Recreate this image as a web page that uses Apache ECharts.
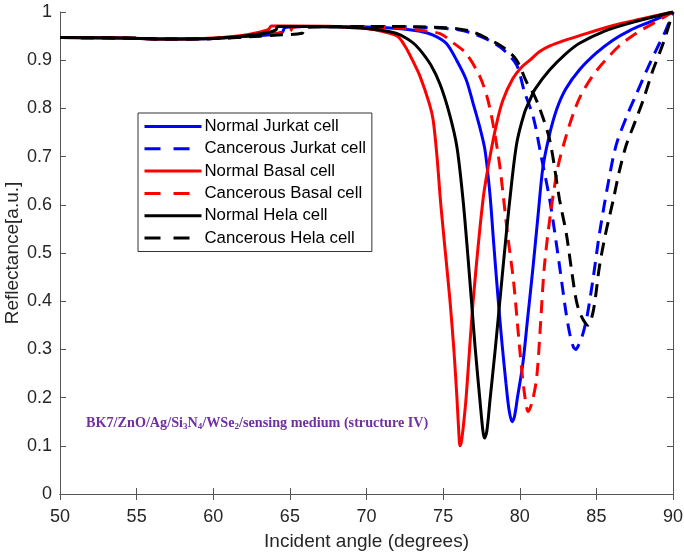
<!DOCTYPE html>
<html>
<head>
<meta charset="utf-8">
<script src="https://cdn.jsdelivr.net/npm/echarts@6/dist/echarts.min.js"></script>
<style>
  html, body { margin: 0; padding: 0; background: #fff; }
  #chart { width: 684px; height: 557px; }
</style>
</head>
<body>
<div id="chart"></div>
<script>
// reflectance curves, [angle (deg), reflectance]
const jurkatNormal = [[50,0.947],[54,0.946],[57,0.944],[60,0.945],[62,0.949],[64,0.954],[64.5,0.958],[64.7,0.968],[66,0.97],[70,0.969],[72,0.966],[73.5,0.96],[74.35,0.952],[75.2,0.935],[75.88,0.9],[76.5,0.86],[76.96,0.81],[77.4,0.76],[77.73,0.714],[78.06,0.62],[78.3,0.52],[78.6,0.4],[78.85,0.31],[79.1,0.23],[79.3,0.175],[79.5,0.15],[79.65,0.16],[79.85,0.2],[80.2,0.27],[80.5,0.36],[80.87,0.472],[81.2,0.58],[81.5,0.675],[81.9,0.74],[82.4,0.797],[83,0.84],[83.9,0.88],[85,0.915],[86.1,0.942],[87.2,0.962],[88.3,0.977],[90,1.0]];
const jurkatCancer = [[50,0.947],[54,0.946],[57,0.944],[60,0.945],[62,0.949],[64,0.955],[64.8,0.96],[65,0.968],[66,0.97],[70,0.97],[74,0.968],[76,0.963],[77,0.955],[78.2,0.938],[79,0.92],[79.8,0.89],[80.3,0.835],[80.9,0.78],[81.4,0.7],[81.96,0.61],[82.6,0.472],[83,0.38],[83.26,0.333],[83.5,0.305],[83.66,0.3],[83.85,0.31],[84.1,0.33],[84.4,0.37],[84.8,0.45],[85.2,0.54],[85.8,0.65],[86.3,0.725],[87,0.785],[87.6,0.829],[88.3,0.88],[88.9,0.921],[89.5,0.96],[90,1.0]];
const basalNormal = [[50,0.947],[54,0.946],[57,0.944],[60,0.946],[62,0.952],[63,0.958],[63.6,0.964],[63.8,0.971],[65,0.971],[68,0.97],[70,0.966],[71,0.96],[72,0.95],[72.5,0.93],[73,0.9],[73.5,0.866],[74.1,0.81],[74.35,0.776],[74.6,0.7],[74.85,0.6],[75.15,0.5],[75.45,0.4],[75.7,0.3],[75.9,0.2],[76.02,0.13],[76.1,0.1],[76.2,0.11],[76.35,0.15],[76.5,0.2],[76.96,0.4],[77.6,0.61],[78,0.69],[78.5,0.77],[78.9,0.817],[79.55,0.862],[80.1,0.885],[80.66,0.9],[81.3,0.918],[82,0.93],[82.83,0.94],[84,0.952],[86.1,0.972],[88,0.986],[90,1.0]];
const basalCancer = [[50,0.947],[54,0.946],[57,0.944],[60,0.945],[62,0.949],[64,0.955],[65,0.96],[65.2,0.968],[66,0.97],[70,0.969],[72,0.967],[73.5,0.962],[74.8,0.955],[75.7,0.935],[76.5,0.914],[77.4,0.866],[77.9,0.82],[78.3,0.76],[78.7,0.68],[79.2,0.54],[79.6,0.44],[80,0.3],[80.3,0.21],[80.55,0.171],[80.8,0.19],[81.1,0.24],[81.35,0.35],[81.6,0.47],[82,0.58],[82.5,0.68],[83,0.74],[83.5,0.79],[84,0.828],[84.7,0.865],[85.4,0.893],[86.5,0.93],[87.6,0.956],[88.8,0.978],[90,1.0]];
const helaNormal = [[50,0.947],[54,0.946],[57,0.944],[60,0.945],[62,0.95],[63.5,0.957],[64.1,0.963],[64.2,0.97],[66,0.97],[68,0.969],[70,0.966],[71,0.962],[72,0.955],[73,0.937],[73.5,0.921],[74.2,0.89],[74.8,0.85],[75.4,0.79],[75.9,0.72],[76.3,0.61],[76.6,0.5],[76.85,0.4],[77.1,0.3],[77.4,0.195],[77.6,0.13],[77.7,0.116],[77.85,0.13],[78.06,0.195],[78.4,0.3],[78.7,0.4],[79,0.5],[79.35,0.61],[79.8,0.727],[80.3,0.79],[80.66,0.817],[81,0.84],[81.96,0.88],[83,0.913],[83.9,0.935],[85.5,0.96],[87.2,0.977],[90,1.0]];
const helaCancer = [[50,0.947],[54,0.946],[57,0.944],[60,0.945],[62,0.948],[64,0.952],[65.8,0.956],[66,0.968],[70,0.97],[74,0.969],[76,0.965],[77,0.958],[78.2,0.94],[79,0.925],[79.8,0.9],[80.44,0.855],[80.9,0.83],[81.3,0.8],[81.96,0.734],[82.6,0.61],[83.04,0.54],[83.4,0.46],[83.7,0.4],[84,0.37],[84.44,0.35],[84.8,0.38],[85.2,0.472],[85.6,0.54],[86.1,0.61],[86.5,0.67],[86.96,0.725],[87.5,0.77],[88.05,0.817],[88.7,0.88],[89.36,0.935],[90,1.0]];

const seriesNames = ['Normal Jurkat cell', 'Cancerous Jurkat cell', 'Normal Basal cell', 'Cancerous Basal cell', 'Normal Hela cell', 'Cancerous Hela cell'];
const seriesData = [jurkatNormal, jurkatCancer, basalNormal, basalCancer, helaNormal, helaCancer];
const seriesColors = ['#0000ff', '#0000ff', '#ff0000', '#ff0000', '#000000', '#000000'];
const seriesDashed = [false, true, false, true, false, true];

const axisColor = '#555';
const font = 'Liberation Sans, Arial, sans-serif';

let chart = echarts.init(document.getElementById('chart'));

let series = seriesNames.map((name, i) => ({
  name: name,
  type: 'line',
  data: seriesData[i],
  showSymbol: false,
  symbol: 'none',
  smooth: 0.3,
  color: seriesColors[i],
  lineStyle: {
    width: 3,
    color: seriesColors[i],
    type: seriesDashed[i] ? [13, 8] : 'solid'
  }
}));

let boxAxis = {
  axisLine: { show: true, lineStyle: { color: axisColor } },
  axisTick: { show: true, inside: true, length: 6, lineStyle: { color: axisColor } },
  axisLabel: { show: false },
  splitLine: { show: false }
};

let option = {
  animation: false,
  backgroundColor: '#fff',
  grid: { left: 60, right: 11, top: 12, bottom: 63, outerBoundsMode: 'none', containLabel: false },
  legend: {
    orient: 'vertical',
    left: 138,
    top: 113,
    padding: [5, 6, 5, 5],
    itemWidth: 57,
    itemHeight: 14,
    itemGap: 5.3,
    borderColor: '#333',
    borderWidth: 1,
    backgroundColor: '#fff',
    textStyle: { fontFamily: font, fontSize: 16.8, color: '#000', padding: [0, 0, 0, -2] },
    data: seriesNames.map((n, i) => ({
      name: n,
      icon: 'inherit',
      itemStyle: { opacity: 0 },
      lineStyle: seriesDashed[i] ? { type: [16, 13], width: 3, opacity: 1 } : { width: 3, opacity: 1 }
    }))
  },
  xAxis: [Object.assign({}, boxAxis, {
    type: 'value',
    min: 50, max: 90, interval: 5,
    name: 'Incident angle (degrees)',
    nameLocation: 'middle',
    nameGap: 38,
    nameTextStyle: { fontFamily: font, fontSize: 19, color: '#262626' },
    axisLine: { show: true, onZero: false, lineStyle: { color: axisColor } },
    axisLabel: { show: true, fontFamily: font, fontSize: 18, color: '#262626', margin: 14 }
  }), Object.assign({}, boxAxis, { type: 'value', position: 'top', min: 50, max: 90, interval: 5 })],
  yAxis: [Object.assign({}, boxAxis, {
    type: 'value',
    min: 0, max: 1, interval: 0.1,
    name: 'Reflectance[a.u.]',
    nameLocation: 'middle',
    nameGap: 38,
    nameMoveOverlap: false,
    nameTextStyle: { fontFamily: font, fontSize: 19, color: '#262626' },
    axisLine: { show: true, onZero: false, lineStyle: { color: axisColor } },
    axisLabel: { show: true, fontFamily: font, fontSize: 18, color: '#262626', margin: 8 }
  }), Object.assign({}, boxAxis, { type: 'value', position: 'right', min: 0, max: 1, interval: 0.1 })],
  graphic: [{
    type: 'text',
    left: 86,
    top: 416,
    style: {
      text: 'BK7/ZnO/Ag/Si{sub|3}N{sub|4}/WSe{sub|2}/sensing medium (structure IV)',
      fontFamily: 'Liberation Serif, Times New Roman, serif',
      fontWeight: 'bold',
      fontSize: 14.2,
      fill: '#7030a0',
      rich: {
        sub: { fontSize: 9, fontWeight: 'bold', fontFamily: 'Liberation Serif, serif', fill: '#7030a0', padding: [8, 0, 0, 0] }
      }
    }
  }],
  series: series
};

chart.setOption(option);
</script>
</body>
</html>
